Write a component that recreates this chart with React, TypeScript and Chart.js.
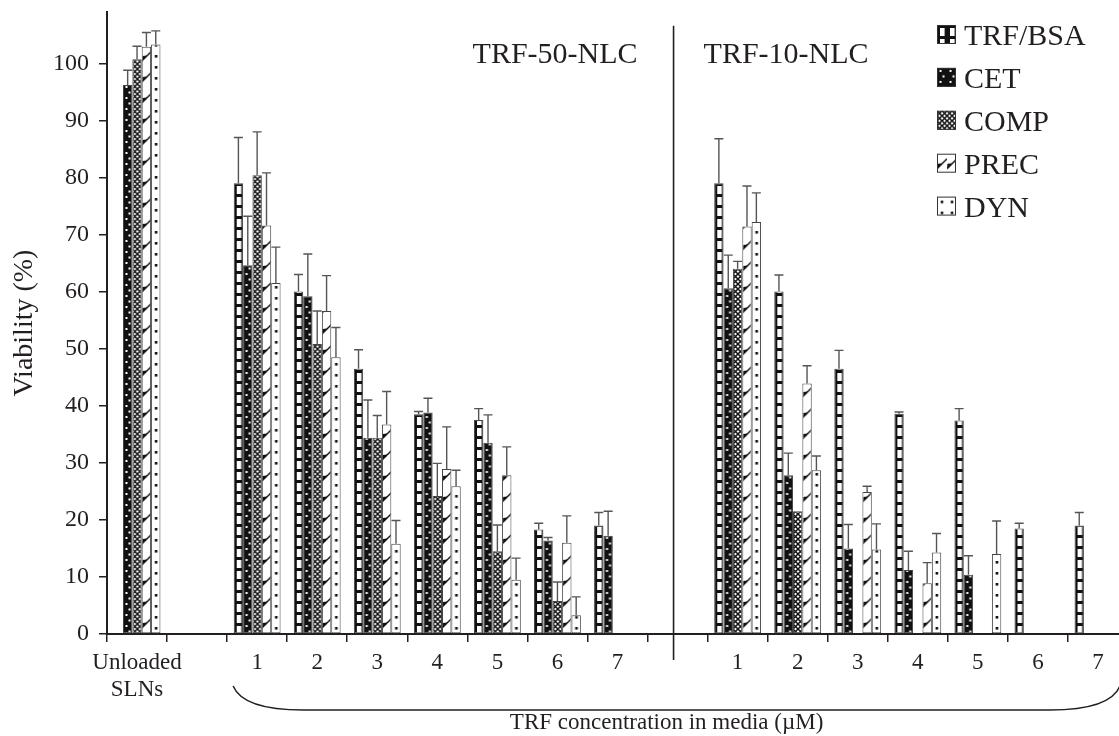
import React, { useEffect, useRef } from 'react';
import { Chart, registerables } from 'chart.js';

Chart.register(...registerables);

const categories: (string | string[])[] = [
  ['Unloaded', 'SLNs'], '', '1', '2', '3', '4', '5', '6', '7', '', '1', '2', '3', '4', '5', '6', '7',
];
const seriesNames = ['TRF/BSA', 'CET', 'COMP', 'PREC', 'DYN'];

const trfBsa = [null, null, 79, 60, 46.5, 38.5, 37.5, 18.3, 19, null, 79, 60, 46.5, 38.6, 37.4, 18.5, 19];
const trfBsaErr = [null, null, 87, 63, 49.8, 39, 39.5, 19.4, 21.3, null, 86.8, 62.9, 49.7, 38.9, 39.5, 19.4, 21.3];
const cet = [96.2, null, 64.6, 59.2, 34.4, 38.8, 33.5, 16.4, 17.2, null, 60.6, 27.8, 15, 11.2, 10.4, null, null];
const cetErr = [98.8, null, 73.2, 66.6, 41, 41.3, 38.4, 16.9, 21.5, null, 66.4, 31.7, 19.2, 14.5, 13.7, null, null];
const comp = [100.7, null, 80.4, 50.8, 34.4, 24.2, 14.5, 5.8, null, null, 64, 21.5, null, null, null, null, null];
const compErr = [103, null, 88, 56.6, 38.3, 29.9, 19.1, 9.1, null, null, 65.3, null, null, null, null, null, null];
const prec = [102.9, null, 71.6, 56.6, 36.7, 28.9, 27.8, 16, null, null, 71.4, 43.9, 24.9, 8.9, null, null, null];
const precErr = [105.4, null, 80.8, 62.8, 42.5, 36.3, 32.8, 20.7, null, null, 78.5, 47, 25.9, 12.5, null, null, null];
const dyn = [103.3, null, 61.5, 48.5, 15.8, 25.9, 9.5, 3.3, null, null, 72.2, 28.7, 14.8, 14.3, 14, null, null];
const dynErr = [105.7, null, 67.8, 53.7, 19.9, 28.7, 13.3, 6.5, null, null, 77.3, 31.2, 19.3, 17.6, 19.8, null, null];

const yMin = 0;
const yMax = 109;
const yTickStep = 10;
const yTickTop = 100;
const groupTitles = ['TRF-50-NLC', 'TRF-10-NLC'];
const dividerIndex = 9;
const dividerTop = 106.6;
const yTitle = 'Viability (%)';
const xTitle = 'TRF concentration in media (\u00b5M)';

const FONT = '"Liberation Serif", "Times New Roman", Times, serif';
const INK = '#231f20';
const CAT_PCT = 0.78;
const KINDS = ['ladder', 'speckle', 'cross', 'flag', 'dot'];

function makeTile(kind: string): HTMLCanvasElement {
  const c = document.createElement('canvas');
  let w = 10, h = 11;
  if (kind === 'cross') { w = 5; h = 5; }
  if (kind === 'flag') { w = 10; h = 21; }
  c.width = w; c.height = h;
  const g = c.getContext('2d')!;
  g.fillStyle = '#fff';
  g.fillRect(0, 0, w, h);
  g.fillStyle = '#111';
  g.strokeStyle = '#111';
  if (kind === 'ladder') {
    g.fillRect(0, 0, w, h);
    g.fillStyle = '#fff';
    g.fillRect(3, 3, 4.6, 8);
  } else if (kind === 'speckle') {
    g.fillRect(0, 0, w, h);
    g.fillStyle = '#fff';
    g.fillRect(2.5, 2, 2, 2);
    g.fillRect(5.5, 7.5, 2, 2);
  } else if (kind === 'cross') {
    g.lineWidth = 1.5;
    g.beginPath();
    g.moveTo(0, 0); g.lineTo(w, h);
    g.moveTo(w, 0); g.lineTo(0, h);
    g.stroke();
  } else if (kind === 'flag') {
    g.lineWidth = 1.5;
    g.beginPath();
    g.moveTo(0, 15); g.lineTo(10, 5);
    g.stroke();
    g.beginPath();
    g.moveTo(0, 15); g.lineTo(5.5, 9.5); g.lineTo(0.5, 10);
    g.closePath();
    g.fill();
  } else if (kind === 'dot') {
    g.fillRect(3.7, 4, 2.6, 2.6);
  }
  return c;
}

export default function App() {
  const ref = useRef<HTMLCanvasElement | null>(null);

  useEffect(() => {
    if (!ref.current) return;
    const canvas = ref.current;
    const c2d = canvas.getContext('2d')!;
    const tiles = KINDS.map(makeTile);
    const patternAt = (d: number, x: number, y: number): CanvasPattern | string => {
      const p = c2d.createPattern(tiles[d], 'repeat');
      if (!p) return '#888';
      try { p.setTransform(new DOMMatrix([1, 0, 0, 1, x, y])); } catch (e) { /* ignore */ }
      return p;
    };
    const values = [trfBsa, cet, comp, prec, dyn];
    const errors = [trfBsaErr, cetErr, compErr, precErr, dynErr];

    const barFill = (sctx: any) => {
      const d = sctx.datasetIndex;
      const chart = sctx.chart;
      const xs = chart.scales && chart.scales.x;
      const ys = chart.scales && chart.scales.y;
      if (!xs || !ys || sctx.dataIndex == null) return patternAt(d, 0, 0);
      const i = sctx.dataIndex;
      const catW = xs.getPixelForValue(1) - xs.getPixelForValue(0);
      const groupW = catW * CAT_PCT;
      const barW = groupW / seriesNames.length;
      const left = xs.getPixelForValue(i) - groupW / 2 + d * barW;
      const base = ys.getPixelForValue(0);
      if (!isFinite(left) || !isFinite(base)) return patternAt(d, 0, 0);
      return patternAt(d, left, base);
    };

    const decor = {
      id: 'decor',
      afterDatasetsDraw(chart: any) {
        const ctx = chart.ctx;
        const ys = chart.scales.y;
        ctx.save();
        ctx.strokeStyle = '#555';
        ctx.lineWidth = 1.4;
        errors.forEach((errs, di) => {
          const meta = chart.getDatasetMeta(di);
          errs.forEach((e, i) => {
            const v = values[di][i];
            if (e == null || v == null) return;
            const bar = meta.data[i];
            if (!bar) return;
            const yt = ys.getPixelForValue(e);
            ctx.beginPath();
            ctx.moveTo(bar.x, bar.y);
            ctx.lineTo(bar.x, yt);
            ctx.moveTo(bar.x - 4.5, yt);
            ctx.lineTo(bar.x + 4.5, yt);
            ctx.stroke();
          });
        });
        ctx.restore();
      },
      afterDraw(chart: any) {
        const ctx = chart.ctx;
        const xs = chart.scales.x;
        const ys = chart.scales.y;
        const area = chart.chartArea;
        const catW = xs.getPixelForValue(1) - xs.getPixelForValue(0);
        ctx.save();
        // divider
        const dx = xs.getPixelForValue(dividerIndex) - 4;
        ctx.strokeStyle = INK;
        ctx.lineWidth = 1.6;
        ctx.beginPath();
        ctx.moveTo(dx, ys.getPixelForValue(dividerTop));
        ctx.lineTo(dx, area.bottom + 26);
        ctx.stroke();
        // group titles
        ctx.fillStyle = INK;
        ctx.font = `30px ${FONT}`;
        ctx.textBaseline = 'alphabetic';
        ctx.textAlign = 'right';
        ctx.fillText(groupTitles[0], dx - 36, 63);
        ctx.textAlign = 'left';
        ctx.fillText(groupTitles[1], dx + 30, 63);
        // brace
        const x0 = xs.getPixelForValue(2) - catW / 2 + 6;
        const x1 = xs.getPixelForValue(16) + catW / 2 - 8;
        const yTop = 686;
        const yBot = 710;
        ctx.lineWidth = 1.5;
        ctx.beginPath();
        ctx.moveTo(x0, yTop);
        ctx.quadraticCurveTo(x0 + 10, yBot, x0 + 70, yBot);
        ctx.lineTo(x1 - 70, yBot);
        ctx.quadraticCurveTo(x1 - 10, yBot, x1, yTop);
        ctx.stroke();
        // x title
        ctx.font = `23px ${FONT}`;
        ctx.textAlign = 'center';
        ctx.textBaseline = 'middle';
        ctx.fillText(xTitle, (x0 + x1) / 2 - 10, 723);
        // legend
        const lx = 937;
        seriesNames.forEach((name, i) => {
          const base = 45 + i * 42.9;
          ctx.fillStyle = patternAt(i, lx, base - 20) as any;
          ctx.fillRect(lx, base - 20, 19, 19);
          ctx.strokeStyle = '#333';
          ctx.lineWidth = 1;
          ctx.strokeRect(lx + 0.5, base - 19.5, 18, 18);
          ctx.fillStyle = INK;
          ctx.font = `30px ${FONT}`;
          ctx.textAlign = 'left';
          ctx.textBaseline = 'alphabetic';
          ctx.fillText(name, lx + 27, base);
        });
        ctx.restore();
      },
    };

    const chart = new Chart(canvas, {
      type: 'bar',
      data: {
        labels: categories as any,
        datasets: seriesNames.map((name, i) => ({
          label: name,
          data: values[i] as any,
          backgroundColor: barFill,
          borderColor: '#444',
          borderWidth: 1,
          borderSkipped: false,
          barPercentage: 1,
          categoryPercentage: CAT_PCT,
        })),
      },
      options: {
        animation: false,
        responsive: true,
        maintainAspectRatio: false,
        layout: { padding: { top: 12, right: 12, left: 0, bottom: 0 } },
        plugins: { legend: { display: false }, tooltip: { enabled: false } },
        scales: {
          x: {
            grid: { display: true, drawOnChartArea: false, drawTicks: true, tickLength: 8, color: INK, lineWidth: 1.5, offset: true },
            border: { display: true, color: INK, width: 2 },
            ticks: { color: INK, font: { family: FONT, size: 23, lineHeight: 1.15 }, padding: 8, maxRotation: 0, autoSkip: false },
            afterFit: (s: any) => { s.height = 102; s.paddingLeft = 0; s.paddingRight = 0; },
          },
          y: {
            min: yMin,
            max: yMax,
            afterBuildTicks: (s: any) => { s.ticks = s.ticks.filter((t: any) => t.value <= yTickTop); },
            ticks: { stepSize: yTickStep, color: INK, font: { family: FONT, size: 24 }, padding: 10 },
            grid: { drawOnChartArea: false, tickLength: 8, color: INK, lineWidth: 1.5 },
            border: { display: true, color: INK, width: 2 },
            title: { display: true, text: yTitle, color: INK, font: { family: FONT, size: 28 }, padding: { top: 8, bottom: 0 } },
            afterFit: (s: any) => { s.width = 107; s.paddingTop = 0; s.paddingBottom = 0; },
          },
        },
      },
      plugins: [decor],
    } as any);
    return () => chart.destroy();
  }, []);

  return (
    <div style={{ position: 'fixed', left: 0, top: 0, width: 1119, height: 736, overflow: 'hidden', background: '#fff' }}>
      <div style={{ position: 'relative', width: 1140, height: 736 }}>
        <canvas ref={ref} />
      </div>
    </div>
  );
}
